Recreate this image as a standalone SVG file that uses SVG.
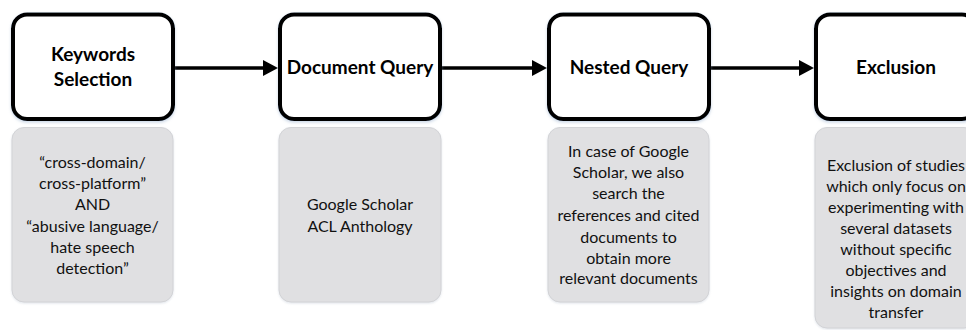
<svg xmlns="http://www.w3.org/2000/svg" width="966" height="330" viewBox="0 0 966 330">
<style>
.step rect{fill:#ffffff;stroke:#000000;stroke-width:4;filter:url(#sh)}
.note rect{fill:#e0e0e2;stroke:#d2d3d6;stroke-width:1;filter:url(#sh2)}
.title{font-family:Lato,"Liberation Sans",sans-serif;font-weight:bold;font-size:19px;fill:#000;text-anchor:middle}
.body{font-family:Lato,"Liberation Sans",sans-serif;font-size:16px;fill:#111;text-anchor:middle}
.conn line{stroke:#000;stroke-width:3.5;marker-end:url(#ah)}
</style>
<defs>
<filter id="sh" x="-10%" y="-10%" width="120%" height="130%">
<feDropShadow dx="0" dy="1.5" stdDeviation="1.5" flood-color="#8aa4c8" flood-opacity="0.45"/>
</filter>
<filter id="sh2" x="-10%" y="-10%" width="120%" height="120%">
<feDropShadow dx="0" dy="1" stdDeviation="1.2" flood-color="#a8b4c4" flood-opacity="0.35"/>
</filter>
<marker id="ah" markerUnits="userSpaceOnUse" markerWidth="16" markerHeight="18" refX="7" refY="8" orient="auto">
<path d="M0,0 L15,8 L0,16 Z" fill="#000"/>
</marker>
</defs>
<rect width="966" height="330" fill="#ffffff"/>

<g id="conns" class="conn">
<line x1="175" y1="68" x2="270" y2="68"/>
<line x1="442" y1="68" x2="539" y2="68"/>
<line x1="711" y1="68" x2="806" y2="68"/>
</g>

<g id="keywords" class="step">
<rect x="13" y="14.5" width="160" height="104.5" rx="14"/>
<text class="title" x="93" y="61">Keywords</text>
<text class="title" x="93" y="86">Selection</text>
</g>
<g id="keywords-note" class="note">
<rect x="12" y="127.5" width="161" height="174.5" rx="12"/>
<text class="body" x="92.5" y="168">“cross-domain/</text>
<text class="body" x="92.5" y="189">cross-platform”</text>
<text class="body" x="92.5" y="210">AND</text>
<text class="body" x="92.5" y="232">“abusive language/</text>
<text class="body" x="92.5" y="253">hate speech</text>
<text class="body" x="92.5" y="274">detection”</text>
</g>

<g id="document-query" class="step">
<rect x="280" y="14.5" width="160" height="104.5" rx="14"/>
<text class="title" x="360" y="74">Document Query</text>
</g>
<g id="document-note" class="note">
<rect x="279" y="127.5" width="162" height="174.5" rx="12"/>
<text class="body" x="360" y="210">Google Scholar</text>
<text class="body" x="360" y="232">ACL Anthology</text>
</g>

<g id="nested-query" class="step">
<rect x="549" y="14.5" width="160" height="104.5" rx="14"/>
<text class="title" x="629" y="74">Nested Query</text>
</g>
<g id="nested-note" class="note">
<rect x="548" y="127.5" width="161" height="174.5" rx="12"/>
<text class="body" x="628.5" y="157">In case of Google</text>
<text class="body" x="628.5" y="178">Scholar, we also</text>
<text class="body" x="628.5" y="199">search the</text>
<text class="body" x="628.5" y="221">references and cited</text>
<text class="body" x="628.5" y="243">documents to</text>
<text class="body" x="628.5" y="264">obtain more</text>
<text class="body" x="628.5" y="284">relevant documents</text>
</g>

<g id="exclusion" class="step">
<rect x="816" y="14.5" width="160" height="104.5" rx="14"/>
<text class="title" x="896" y="74">Exclusion</text>
</g>
<g id="exclusion-note" class="note">
<rect x="815" y="127.5" width="161" height="200.5" rx="12"/>
<text class="body" x="896" y="171">Exclusion of studies</text>
<text class="body" x="896" y="192">which only focus on</text>
<text class="body" x="896" y="213">experimenting with</text>
<text class="body" x="896" y="234">several datasets</text>
<text class="body" x="896" y="255">without specific</text>
<text class="body" x="896" y="276">objectives and</text>
<text class="body" x="896" y="297">insights on domain</text>
<text class="body" x="896" y="318">transfer</text>
</g>
</svg>
